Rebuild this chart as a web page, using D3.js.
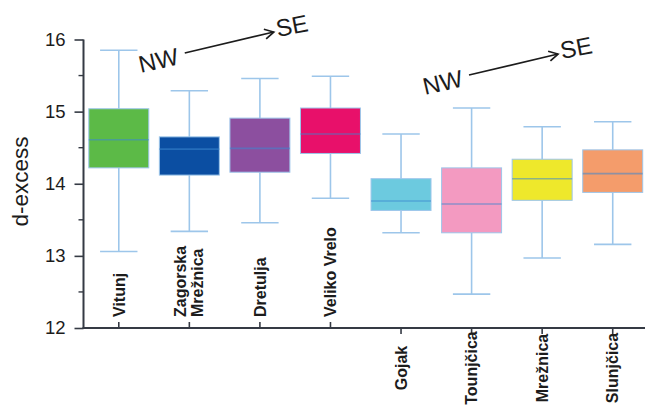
<!DOCTYPE html>
<html>
<head>
<meta charset="utf-8">
<script src="https://cdn.jsdelivr.net/npm/d3@7"></script>
<style>
  html, body { margin: 0; padding: 0; background: #fff; }
  svg { display: block; font-family: "Liberation Sans", Arial, Helvetica, sans-serif; }
</style>
</head>
<body>
<svg id="chart" width="645" height="409"></svg>
<script>
// Springs, grouped into two NW -> SE transects
const categories = ['Vitunj', 'Zagorska Mrežnica', 'Dretulja', 'Veliko Vrelo',
                    'Gojak', 'Tounjčica', 'Mrežnica', 'Slunjčica'];
const transect = [0, 0, 0, 0, 1, 1, 1, 1];
// d-excess summary statistics per spring
const whiskerHigh = [15.85, 15.29, 15.46, 15.49, 14.69, 15.05, 14.79, 14.86];
const q3          = [15.04, 14.65, 14.91, 15.05, 14.07, 14.22, 14.34, 14.47];
const median      = [14.61, 14.48, 14.49, 14.69, 13.76, 13.72, 14.07, 14.14];
const q1          = [14.22, 14.12, 14.16, 14.42, 13.63, 13.32, 13.77, 13.88];
const whiskerLow  = [13.06, 13.34, 13.46, 13.80, 13.32, 12.47, 12.97, 13.16];
const boxColors = ['#5cba47', '#0b4ea2', '#8c4f9f', '#e8106a',
                   '#6ccadf', '#f39ac1', '#eee82b', '#f49c6b'];
const yTicks = [12, 13, 14, 15, 16];
const yMinorTicks = [12.5, 13.5, 14.5, 15.5];
const yTitle = 'd-excess';
const arrowFrom = 'NW', arrowTo = 'SE';

const svg = d3.select('#chart');
const plotLeft = 83.5, plotRight = 648, plotTop = 39.5, plotBottom = 328;

const x = d3.scaleBand().domain(categories).range([plotLeft, plotRight]).padding(0);
const y = d3.scaleLinear().domain([12, 16]).range([plotBottom, plotTop]);

const rows = categories.map((c, i) => ({
  c, i, hi: whiskerHigh[i], q3: q3[i], med: median[i], q1: q1[i], lo: whiskerLow[i],
  color: boxColors[i], side: transect[i]
}));

const boxW = x.bandwidth() * 0.85;
const capW = x.bandwidth() * 0.53;
const whiskerColor = '#9dc6ea';
const ink = '#1c1c1c';
const axisColor = '#353a44';

// Box plots
const g = svg.append('g');
const item = g.selectAll('g.box').data(rows).enter().append('g').attr('class', 'box')
  .attr('transform', d => `translate(${x(d.c) + x.bandwidth() / 2},0)`);

item.append('line').attr('x1', 0).attr('x2', 0)
  .attr('y1', d => y(d.hi)).attr('y2', d => y(d.q3))
  .attr('stroke', whiskerColor).attr('stroke-width', 1.6);
item.append('line').attr('x1', 0).attr('x2', 0)
  .attr('y1', d => y(d.q1)).attr('y2', d => y(d.lo))
  .attr('stroke', whiskerColor).attr('stroke-width', 1.6);
item.append('line').attr('x1', -capW / 2).attr('x2', capW / 2)
  .attr('y1', d => y(d.hi)).attr('y2', d => y(d.hi))
  .attr('stroke', whiskerColor).attr('stroke-width', 1.6);
item.append('line').attr('x1', -capW / 2).attr('x2', capW / 2)
  .attr('y1', d => y(d.lo)).attr('y2', d => y(d.lo))
  .attr('stroke', whiskerColor).attr('stroke-width', 1.6);
item.append('rect')
  .attr('x', -boxW / 2).attr('width', boxW)
  .attr('y', d => y(d.q3)).attr('height', d => y(d.q1) - y(d.q3))
  .attr('fill', d => d.color).attr('stroke', whiskerColor).attr('stroke-width', 1);
item.append('line').attr('x1', -boxW / 2).attr('x2', boxW / 2)
  .attr('y1', d => y(d.med)).attr('y2', d => y(d.med))
  .attr('stroke', '#3d86cf').attr('stroke-opacity', 0.55).attr('stroke-width', 1.6);

// Y axis with minor ticks
const yAxis = svg.append('g').attr('transform', `translate(${plotLeft},0)`)
  .call(d3.axisLeft(y).tickValues(yTicks).tickFormat(d3.format('d')).tickSize(9).tickPadding(9));
yAxis.select('.domain').attr('stroke', axisColor).attr('stroke-width', 2).attr('d', `M0,${y(12)}V${y(16)}`);
yAxis.selectAll('.tick line').attr('stroke', axisColor).attr('stroke-width', 1.6);
yAxis.selectAll('.tick text').attr('font-size', 18.5).attr('fill', ink)
  .attr('font-family', '"Liberation Sans", Arial, sans-serif');
svg.append('g').selectAll('line').data(yMinorTicks).enter().append('line')
  .attr('x1', plotLeft - 5).attr('x2', plotLeft).attr('y1', d => y(d)).attr('y2', d => y(d))
  .attr('stroke', axisColor).attr('stroke-width', 1.4);

// X axis baseline and category ticks
svg.append('line').attr('x1', plotLeft - 1).attr('x2', 645).attr('y1', plotBottom).attr('y2', plotBottom)
  .attr('stroke', axisColor).attr('stroke-width', 2);
svg.append('g').selectAll('line').data(rows).enter().append('line')
  .attr('x1', d => x(d.c) + x.bandwidth() / 2).attr('x2', d => x(d.c) + x.bandwidth() / 2)
  .attr('y1', plotBottom).attr('y2', d => d.side === 0 ? plotBottom - 6 : plotBottom + 6)
  .attr('stroke', axisColor).attr('stroke-width', 1.6);

// Category labels: first transect inside the plot, second below the axis
const labels = svg.append('g').selectAll('text').data(rows).enter().append('text')
  .attr('transform', d => {
    const cx = x(d.c) + x.bandwidth() / 2;
    return d.side === 0 ? `translate(${cx},${plotBottom - 11}) rotate(-90)`
                        : `translate(${cx},${plotBottom + 40}) rotate(-90)`;
  })
  .attr('text-anchor', d => d.side === 0 ? 'start' : 'middle')
  .attr('font-size', 16).attr('font-weight', 'bold').attr('fill', ink);
labels.each(function (d) {
  const parts = d.c.split(' ');
  const t = d3.select(this);
  if (d.side === 0 && parts.length === 2 && d.c !== 'Veliko Vrelo') {
    t.append('tspan').attr('x', 0).attr('dy', '-0.2em').text(parts[0]);
    t.append('tspan').attr('x', 0).attr('dy', '1.08em').text(parts[1]);
  } else {
    t.append('tspan').attr('x', 0).attr('dy', '0.36em').text(d.c);
  }
});

// Y axis title
svg.append('text')
  .attr('transform', `translate(28,${y(14.03)}) rotate(-90)`)
  .attr('text-anchor', 'middle').attr('font-size', 22.5).attr('fill', ink).text(yTitle);

// NW -> SE direction arrows above each transect
svg.append('defs').append('marker').attr('id', 'head')
  .attr('viewBox', '0 -6 12 12').attr('refX', 10).attr('refY', 0)
  .attr('markerWidth', 12).attr('markerHeight', 12).attr('markerUnits', 'userSpaceOnUse')
  .attr('orient', 'auto')
  .append('path').attr('d', 'M1,-5L10,0L1,5').attr('fill', 'none')
  .attr('stroke', ink).attr('stroke-width', 1.7);

const angle = -13;
[0, 1].forEach(k => {
  const firstIdx = transect.indexOf(k);
  const bx = x(categories[firstIdx]) + x.bandwidth() / 2;   // centre of first box in transect
  const dyv = k === 0 ? 0 : 22;
  const ox = bx + (k === 0 ? 22 : 24);
  const oy = y(15.535) + dyv;
  const a = svg.append('g');
  a.append('text').attr('transform', `translate(${ox},${oy}) rotate(${angle})`)
    .attr('font-size', 24).attr('fill', ink).text(arrowFrom);
  a.append('line')
    .attr('x1', ox + 44).attr('y1', oy - 20)
    .attr('x2', ox + 133).attr('y2', oy - 41)
    .attr('stroke', ink).attr('stroke-width', 1.7).attr('marker-end', 'url(#head)');
  a.append('text').attr('transform', `translate(${ox + 137},${oy - 36}) rotate(${angle + 2})`)
    .attr('font-size', 24).attr('fill', ink).text(arrowTo);
});
</script>
</body>
</html>
